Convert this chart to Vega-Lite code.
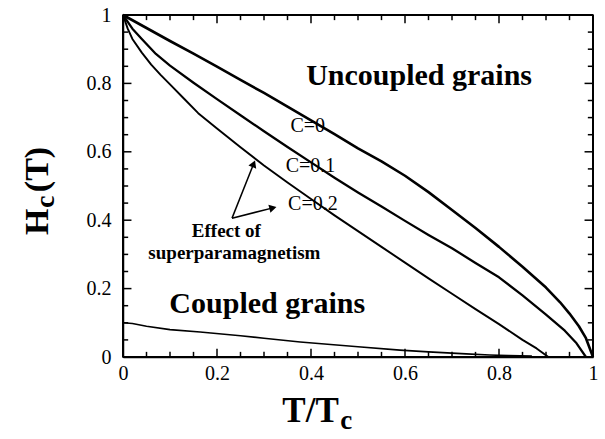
{
  "$schema": "https://vega.github.io/schema/vega-lite/v6.json",
  "width": 470,
  "height": 342,
  "autosize": {"type": "none"},
  "padding": {"left": 123, "top": 15, "right": 12, "bottom": 82},
  "background": "white",
  "config": {
    "view": {"stroke": "black", "strokeWidth": 1.5},
    "font": "Liberation Serif",
    "axis": {
      "domain": true, "domainColor": "black", "domainWidth": 1.5, "ticks": false,
      "labelFont": "Liberation Serif", "labelFontSize": 20, "labelColor": "black",
      "grid": false, "title": null, "labelOverlap": false, "labelFlush": false
    }
  },
  "datasets": {
    "curves": [
      {"series": "C=0", "t": 0, "h": 1}, {"series": "C=0", "t": 0.05, "h": 0.962}, {"series": "C=0", "t": 0.1, "h": 0.924},
      {"series": "C=0", "t": 0.15, "h": 0.887}, {"series": "C=0", "t": 0.2, "h": 0.849}, {"series": "C=0", "t": 0.25, "h": 0.81},
      {"series": "C=0", "t": 0.3, "h": 0.772}, {"series": "C=0", "t": 0.35, "h": 0.732}, {"series": "C=0", "t": 0.4, "h": 0.692},
      {"series": "C=0", "t": 0.45, "h": 0.652}, {"series": "C=0", "t": 0.5, "h": 0.61}, {"series": "C=0", "t": 0.55, "h": 0.572},
      {"series": "C=0", "t": 0.6, "h": 0.53}, {"series": "C=0", "t": 0.65, "h": 0.482}, {"series": "C=0", "t": 0.7, "h": 0.43},
      {"series": "C=0", "t": 0.75, "h": 0.377}, {"series": "C=0", "t": 0.8, "h": 0.322}, {"series": "C=0", "t": 0.85, "h": 0.264},
      {"series": "C=0", "t": 0.9, "h": 0.203}, {"series": "C=0", "t": 0.93, "h": 0.16}, {"series": "C=0", "t": 0.95, "h": 0.127},
      {"series": "C=0", "t": 0.97, "h": 0.09}, {"series": "C=0", "t": 0.985, "h": 0.055}, {"series": "C=0", "t": 1, "h": 0},
      {"series": "C=0.1", "t": 0, "h": 1}, {"series": "C=0.1", "t": 0.02, "h": 0.96}, {"series": "C=0.1", "t": 0.04, "h": 0.93},
      {"series": "C=0.1", "t": 0.07, "h": 0.886}, {"series": "C=0.1", "t": 0.1, "h": 0.852}, {"series": "C=0.1", "t": 0.15, "h": 0.802},
      {"series": "C=0.1", "t": 0.2, "h": 0.754}, {"series": "C=0.1", "t": 0.25, "h": 0.707}, {"series": "C=0.1", "t": 0.3, "h": 0.66},
      {"series": "C=0.1", "t": 0.35, "h": 0.614}, {"series": "C=0.1", "t": 0.4, "h": 0.569}, {"series": "C=0.1", "t": 0.45, "h": 0.524},
      {"series": "C=0.1", "t": 0.5, "h": 0.481}, {"series": "C=0.1", "t": 0.55, "h": 0.44}, {"series": "C=0.1", "t": 0.6, "h": 0.398},
      {"series": "C=0.1", "t": 0.65, "h": 0.357}, {"series": "C=0.1", "t": 0.7, "h": 0.318}, {"series": "C=0.1", "t": 0.75, "h": 0.275},
      {"series": "C=0.1", "t": 0.8, "h": 0.233}, {"series": "C=0.1", "t": 0.85, "h": 0.18}, {"series": "C=0.1", "t": 0.9, "h": 0.124},
      {"series": "C=0.1", "t": 0.94, "h": 0.077}, {"series": "C=0.1", "t": 0.965, "h": 0.04}, {"series": "C=0.1", "t": 0.985, "h": 0},
      {"series": "C=0.2", "t": 0, "h": 1}, {"series": "C=0.2", "t": 0.01, "h": 0.96}, {"series": "C=0.2", "t": 0.02, "h": 0.93},
      {"series": "C=0.2", "t": 0.04, "h": 0.89}, {"series": "C=0.2", "t": 0.06, "h": 0.855}, {"series": "C=0.2", "t": 0.08, "h": 0.825},
      {"series": "C=0.2", "t": 0.1, "h": 0.797}, {"series": "C=0.2", "t": 0.13, "h": 0.755}, {"series": "C=0.2", "t": 0.16, "h": 0.713},
      {"series": "C=0.2", "t": 0.2, "h": 0.668}, {"series": "C=0.2", "t": 0.25, "h": 0.613}, {"series": "C=0.2", "t": 0.3, "h": 0.56},
      {"series": "C=0.2", "t": 0.35, "h": 0.51}, {"series": "C=0.2", "t": 0.4, "h": 0.462}, {"series": "C=0.2", "t": 0.45, "h": 0.414},
      {"series": "C=0.2", "t": 0.5, "h": 0.368}, {"series": "C=0.2", "t": 0.55, "h": 0.322}, {"series": "C=0.2", "t": 0.6, "h": 0.276},
      {"series": "C=0.2", "t": 0.65, "h": 0.23}, {"series": "C=0.2", "t": 0.7, "h": 0.185}, {"series": "C=0.2", "t": 0.75, "h": 0.14},
      {"series": "C=0.2", "t": 0.8, "h": 0.096}, {"series": "C=0.2", "t": 0.85, "h": 0.05}, {"series": "C=0.2", "t": 0.88, "h": 0.025},
      {"series": "C=0.2", "t": 0.905, "h": 0},
      {"series": "Coupled", "t": 0, "h": 0.1}, {"series": "Coupled", "t": 0.02, "h": 0.098}, {"series": "Coupled", "t": 0.05, "h": 0.09},
      {"series": "Coupled", "t": 0.1, "h": 0.08}, {"series": "Coupled", "t": 0.164, "h": 0.073}, {"series": "Coupled", "t": 0.25, "h": 0.062},
      {"series": "Coupled", "t": 0.3, "h": 0.055}, {"series": "Coupled", "t": 0.377, "h": 0.044}, {"series": "Coupled", "t": 0.5, "h": 0.03},
      {"series": "Coupled", "t": 0.589, "h": 0.02}, {"series": "Coupled", "t": 0.65, "h": 0.015}, {"series": "Coupled", "t": 0.73, "h": 0.009},
      {"series": "Coupled", "t": 0.78, "h": 0.006}, {"series": "Coupled", "t": 0.82, "h": 0.004}, {"series": "Coupled", "t": 0.87, "h": 0.003}
    ],
    "frame": [
      {"x": 0, "y": 0, "x2": 1, "y2": 0},
      {"x": 0, "y": 1, "x2": 1, "y2": 1},
      {"x": 0, "y": 0, "x2": 0, "y2": 1},
      {"x": 1, "y": 0, "x2": 1, "y2": 1}
    ],
    "xTicks": [
      {"v": 0.05, "p0": 0, "p1": 0.015}, {"v": 0.1, "p0": 0, "p1": 0.015}, {"v": 0.15, "p0": 0, "p1": 0.015},
      {"v": 0.2, "p0": 0, "p1": 0.024}, {"v": 0.25, "p0": 0, "p1": 0.015}, {"v": 0.3, "p0": 0, "p1": 0.015}, {"v": 0.35, "p0": 0, "p1": 0.015},
      {"v": 0.4, "p0": 0, "p1": 0.024}, {"v": 0.45, "p0": 0, "p1": 0.015}, {"v": 0.5, "p0": 0, "p1": 0.015}, {"v": 0.55, "p0": 0, "p1": 0.015},
      {"v": 0.6, "p0": 0, "p1": 0.024}, {"v": 0.65, "p0": 0, "p1": 0.015}, {"v": 0.7, "p0": 0, "p1": 0.015}, {"v": 0.75, "p0": 0, "p1": 0.015},
      {"v": 0.8, "p0": 0, "p1": 0.024}, {"v": 0.85, "p0": 0, "p1": 0.015}, {"v": 0.9, "p0": 0, "p1": 0.015}, {"v": 0.95, "p0": 0, "p1": 0.015},
      {"v": 0.05, "p0": 1, "p1": 0.985}, {"v": 0.1, "p0": 1, "p1": 0.985}, {"v": 0.15, "p0": 1, "p1": 0.985},
      {"v": 0.2, "p0": 1, "p1": 0.976}, {"v": 0.25, "p0": 1, "p1": 0.985}, {"v": 0.3, "p0": 1, "p1": 0.985}, {"v": 0.35, "p0": 1, "p1": 0.985},
      {"v": 0.4, "p0": 1, "p1": 0.976}, {"v": 0.45, "p0": 1, "p1": 0.985}, {"v": 0.5, "p0": 1, "p1": 0.985}, {"v": 0.55, "p0": 1, "p1": 0.985},
      {"v": 0.6, "p0": 1, "p1": 0.976}, {"v": 0.65, "p0": 1, "p1": 0.985}, {"v": 0.7, "p0": 1, "p1": 0.985}, {"v": 0.75, "p0": 1, "p1": 0.985},
      {"v": 0.8, "p0": 1, "p1": 0.976}, {"v": 0.85, "p0": 1, "p1": 0.985}, {"v": 0.9, "p0": 1, "p1": 0.985}, {"v": 0.95, "p0": 1, "p1": 0.985}
    ],
    "yTicks": [
      {"v": 0.05, "p0": 0, "p1": 0.011}, {"v": 0.1, "p0": 0, "p1": 0.011}, {"v": 0.15, "p0": 0, "p1": 0.011},
      {"v": 0.2, "p0": 0, "p1": 0.018}, {"v": 0.25, "p0": 0, "p1": 0.011}, {"v": 0.3, "p0": 0, "p1": 0.011}, {"v": 0.35, "p0": 0, "p1": 0.011},
      {"v": 0.4, "p0": 0, "p1": 0.018}, {"v": 0.45, "p0": 0, "p1": 0.011}, {"v": 0.5, "p0": 0, "p1": 0.011}, {"v": 0.55, "p0": 0, "p1": 0.011},
      {"v": 0.6, "p0": 0, "p1": 0.018}, {"v": 0.65, "p0": 0, "p1": 0.011}, {"v": 0.7, "p0": 0, "p1": 0.011}, {"v": 0.75, "p0": 0, "p1": 0.011},
      {"v": 0.8, "p0": 0, "p1": 0.018}, {"v": 0.85, "p0": 0, "p1": 0.011}, {"v": 0.9, "p0": 0, "p1": 0.011}, {"v": 0.95, "p0": 0, "p1": 0.011},
      {"v": 0.05, "p0": 1, "p1": 0.989}, {"v": 0.1, "p0": 1, "p1": 0.989}, {"v": 0.15, "p0": 1, "p1": 0.989},
      {"v": 0.2, "p0": 1, "p1": 0.982}, {"v": 0.25, "p0": 1, "p1": 0.989}, {"v": 0.3, "p0": 1, "p1": 0.989}, {"v": 0.35, "p0": 1, "p1": 0.989},
      {"v": 0.4, "p0": 1, "p1": 0.982}, {"v": 0.45, "p0": 1, "p1": 0.989}, {"v": 0.5, "p0": 1, "p1": 0.989}, {"v": 0.55, "p0": 1, "p1": 0.989},
      {"v": 0.6, "p0": 1, "p1": 0.982}, {"v": 0.65, "p0": 1, "p1": 0.989}, {"v": 0.7, "p0": 1, "p1": 0.989}, {"v": 0.75, "p0": 1, "p1": 0.989},
      {"v": 0.8, "p0": 1, "p1": 0.982}, {"v": 0.85, "p0": 1, "p1": 0.989}, {"v": 0.9, "p0": 1, "p1": 0.989}, {"v": 0.95, "p0": 1, "p1": 0.989}
    ],
    "bigLabels": [
      {"label": "Uncoupled grains", "x": 0.63, "y": 0.795},
      {"label": "Coupled grains", "x": 0.307, "y": 0.129}
    ],
    "cLabels": [
      {"label": "C=0", "x": 0.393, "y": 0.658},
      {"label": "C=0.1", "x": 0.399, "y": 0.541},
      {"label": "C=0.2", "x": 0.404, "y": 0.43}
    ],
    "effect": [
      {"label": "Effect of", "x": 0.22, "y": 0.351},
      {"label": "superparamagnetism", "x": 0.237, "y": 0.287}
    ],
    "arrows": [
      {"x": 0.232, "y": 0.406, "x2": 0.278, "y2": 0.565},
      {"x": 0.232, "y": 0.406, "x2": 0.319, "y2": 0.436}
    ],
    "heads": [
      {"name": "a1", "x": 0.278, "y": 0.565},
      {"name": "a2", "x": 0.319, "y": 0.436}
    ],
    "xTitle": [{"label": "T/T", "x": 0.399, "y": -0.19}],
    "xTitleSub": [{"label": "c", "x": 0.462, "y": -0.211}],
    "yTitle": [{"label": "H", "x": -0.16, "y": 0.357}, {"label": "(T)", "x": -0.16, "y": 0.482}],
    "yTitleSub": [{"label": "c", "x": -0.147, "y": 0.436}]
  },
  "layer": [
    {
      "data": {"name": "curves"},
      "mark": {"type": "line", "color": "black", "strokeJoin": "round"},
      "encoding": {
        "x": {"field": "t", "type": "quantitative", "scale": {"domain": [0, 1], "nice": false, "zero": false},
          "axis": {"orient": "bottom", "values": [0, 0.2, 0.4, 0.6, 0.8, 1], "format": "~g", "labelFont": "Liberation Serif", "labelPadding": 6}},
        "y": {"field": "h", "type": "quantitative", "scale": {"domain": [0, 1], "nice": false, "zero": false},
          "axis": {"orient": "left", "values": [0, 0.2, 0.4, 0.6, 0.8, 1], "format": "~g", "labelFont": "Liberation Serif", "labelPadding": 12}},
        "detail": {"field": "series"},
        "strokeWidth": {"field": "series", "type": "nominal", "scale": {"domain": ["C=0", "C=0.1", "C=0.2", "Coupled"], "range": [2.6, 1.6, 1.6, 3.2]}, "legend": null}
      }
    },
    {
      "data": {"name": "bigLabels"},
      "mark": {"type": "text", "font": "Liberation Serif", "fontWeight": "bold", "fontSize": 30, "align": "center", "baseline": "alphabetic", "color": "black"},
      "encoding": {"x": {"field": "x", "type": "quantitative"}, "y": {"field": "y", "type": "quantitative"}, "text": {"field": "label"}}
    },
    {
      "data": {"name": "cLabels"},
      "mark": {"type": "text", "font": "Liberation Serif", "fontSize": 20, "align": "center", "baseline": "alphabetic", "color": "black"},
      "encoding": {"x": {"field": "x", "type": "quantitative"}, "y": {"field": "y", "type": "quantitative"}, "text": {"field": "label"}}
    },
    {
      "data": {"name": "effect"},
      "mark": {"type": "text", "font": "Liberation Serif", "fontWeight": "bold", "fontSize": 19, "align": "center", "baseline": "alphabetic", "color": "black"},
      "encoding": {"x": {"field": "x", "type": "quantitative"}, "y": {"field": "y", "type": "quantitative"}, "text": {"field": "label"}}
    },
    {
      "data": {"name": "arrows"},
      "mark": {"type": "rule", "color": "black", "strokeWidth": 1.5},
      "encoding": {"x": {"field": "x", "type": "quantitative"}, "y": {"field": "y", "type": "quantitative"},
        "x2": {"field": "x2"}, "y2": {"field": "y2"}}
    },
    {
      "data": {"name": "heads"},
      "transform": [{"filter": "datum.name == 'a1'"}],
      "mark": {"type": "point", "shape": "triangle-up", "filled": true, "color": "black", "opacity": 1, "size": 70, "angle": 22},
      "encoding": {"x": {"field": "x", "type": "quantitative"}, "y": {"field": "y", "type": "quantitative"}}
    },
    {
      "data": {"name": "heads"},
      "transform": [{"filter": "datum.name == 'a2'"}],
      "mark": {"type": "point", "shape": "triangle-up", "filled": true, "color": "black", "opacity": 1, "size": 70, "angle": 76},
      "encoding": {"x": {"field": "x", "type": "quantitative"}, "y": {"field": "y", "type": "quantitative"}}
    },
    {
      "data": {"name": "xTitle"},
      "mark": {"type": "text", "font": "Liberation Serif", "fontWeight": "bold", "fontSize": 35, "align": "center", "baseline": "alphabetic", "color": "black"},
      "encoding": {"x": {"field": "x", "type": "quantitative"}, "y": {"field": "y", "type": "quantitative"}, "text": {"field": "label"}}
    },
    {
      "data": {"name": "xTitleSub"},
      "mark": {"type": "text", "font": "Liberation Serif", "fontWeight": "bold", "fontSize": 27, "align": "left", "baseline": "alphabetic", "color": "black"},
      "encoding": {"x": {"field": "x", "type": "quantitative"}, "y": {"field": "y", "type": "quantitative"}, "text": {"field": "label"}}
    },
    {
      "data": {"name": "yTitle"},
      "mark": {"type": "text", "font": "Liberation Serif", "fontWeight": "bold", "fontSize": 34, "align": "left", "baseline": "alphabetic", "angle": 270, "color": "black"},
      "encoding": {"x": {"field": "x", "type": "quantitative"}, "y": {"field": "y", "type": "quantitative"}, "text": {"field": "label"}}
    },
    {
      "data": {"name": "yTitleSub"},
      "mark": {"type": "text", "font": "Liberation Serif", "fontWeight": "bold", "fontSize": 28, "align": "left", "baseline": "alphabetic", "angle": 270, "color": "black"},
      "encoding": {"x": {"field": "x", "type": "quantitative"}, "y": {"field": "y", "type": "quantitative"}, "text": {"field": "label"}}
    },
    {
      "data": {"name": "frame"},
      "mark": {"type": "rule", "color": "black", "strokeWidth": 2},
      "encoding": {"x": {"field": "x", "type": "quantitative"}, "y": {"field": "y", "type": "quantitative"},
        "x2": {"field": "x2"}, "y2": {"field": "y2"}}
    },
    {
      "data": {"name": "xTicks"},
      "mark": {"type": "rule", "color": "black", "strokeWidth": 1.5},
      "encoding": {"x": {"field": "v", "type": "quantitative"}, "y": {"field": "p0", "type": "quantitative"}, "y2": {"field": "p1"}}
    },
    {
      "data": {"name": "yTicks"},
      "mark": {"type": "rule", "color": "black", "strokeWidth": 1.5},
      "encoding": {"y": {"field": "v", "type": "quantitative"}, "x": {"field": "p0", "type": "quantitative"}, "x2": {"field": "p1"}}
    }
  ]
}
